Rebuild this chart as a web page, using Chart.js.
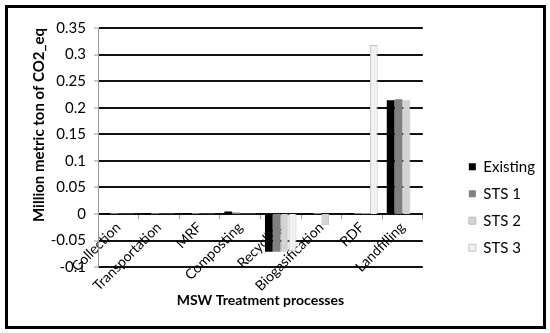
<!DOCTYPE html>
<html>
<head>
<meta charset="utf-8">
<script src="https://cdn.jsdelivr.net/npm/chart.js@4.4.1/dist/chart.umd.min.js"></script>
<style>
  body { margin: 0; background: #fff; }
  #wrap { position: relative; width: 550px; height: 333px; }
  #frame {
    position: absolute; left: 5px; top: 5px; width: 541px; height: 324px;
    box-sizing: border-box; border: 3px solid #000; pointer-events: none;
  }
</style>
</head>
<body>
<div id="wrap">
  <canvas id="chart"></canvas>
  <div id="frame"></div>
</div>
<script>
// categories and values
const categories = ['Collection', 'Transportation', 'MRF', 'Composting', 'Recycling', 'Biogasification', 'RDF', 'Landfilling'];
const seriesNames = ['Existing', 'STS 1', 'STS 2', 'STS 3'];
const existing = [0.002, 0.002, 0.002, 0.005, -0.071, 0.002, 0.002, 0.214];
const sts1 = [0.002, 0.002, 0.002, 0.003, -0.071, 0.002, 0.002, 0.216];
const sts2 = [0.001, 0.001, 0.001, 0.001, -0.071, -0.021, 0.002, 0.214];
const sts3 = [0.001, 0.001, 0.001, 0.001, -0.070, 0.000, 0.318, 0.000];
const yTickLabels = ['-0.1', '-0.05', '0', '0.05', '0.1', '0.15', '0.2', '0.25', '0.3', '0.35'];

const fontFamily = 'Lato, "Open Sans", sans-serif';

document.addEventListener('DOMContentLoaded', () => {
    const ctx = document.getElementById('chart');

    const data = {
        labels: categories,
        datasets: [
            { label: seriesNames[0], data: existing, backgroundColor: '#000000', borderColor: '#000000', borderWidth: 0 },
            { label: seriesNames[1], data: sts1, backgroundColor: '#808080', borderColor: '#808080', borderWidth: 0 },
            { label: seriesNames[2], data: sts2, backgroundColor: '#d3d3d3', borderColor: '#bdbdbd', borderWidth: 1 },
            { label: seriesNames[3], data: sts3, backgroundColor: '#f0f0f0', borderColor: '#c4c4c4', borderWidth: 1 }
        ]
    };

    new Chart(ctx, {
        type: 'bar',
        data: data,
        options: {
            responsive: true,
            maintainAspectRatio: false,
            animation: false,
            layout: { padding: { left: 26, top: 28, right: 7, bottom: 24 } },
            datasets: {
                bar: { categoryPercentage: 0.78, barPercentage: 0.98 }
            },
            plugins: {
                tooltip: { enabled: false },
                legend: {
                    position: 'right',
                    align: 'end',
                    fullSize: false,
                    labels: {
                        boxWidth: 7,
                        boxHeight: 7,
                        padding: 12,
                        color: '#000',
                        font: { family: fontFamily, size: 15 }
                    }
                },
                title: {
                    display: true,
                    text: 'MSW Treatment processes',
                    position: 'bottom',
                    fullSize: false,
                    color: '#000',
                    font: { family: fontFamily, size: 14, weight: 'bold' },
                    padding: { top: 25, bottom: 0 }
                }
            },
            scales: {
                x: {
                    type: 'category',
                    position: { y: 0 },
                    grid: { offset: true, drawOnChartArea: false, tickLength: 5, color: '#999', lineWidth: 1 },
                    border: { display: false },
                    ticks: {
                        autoSkip: false,
                        maxRotation: 45,
                        minRotation: 45,
                        padding: 0,
                        color: '#000',
                        font: { family: fontFamily, size: 14 }
                    },
                    afterFit: (scale) => { scale.height = 2; }
                },
                y: {
                    min: -0.1,
                    max: 0.35,
                    ticks: {
                        stepSize: 0.05,
                        padding: 8,
                        color: '#000',
                        font: { family: fontFamily, size: 15 },
                        callback: (value, index) => yTickLabels[index]
                    },
                    grid: { color: '#111', lineWidth: 2, tickLength: 4, tickColor: '#999', tickWidth: 1 },
                    border: { color: '#999', width: 1 },
                    title: {
                        display: true,
                        text: 'Million metric ton of CO2_eq',
                        align: 'end',
                        color: '#000',
                        font: { family: fontFamily, size: 15, weight: 'bold' },
                        padding: { top: 4, bottom: 0 }
                    },
                    afterFit: (scale) => { scale.width = 72; }
                },
                // empty axis, only keeps the gap between plot and legend
                gap: {
                    type: 'linear',
                    position: 'right',
                    grid: { display: false },
                    ticks: { display: false },
                    border: { display: false },
                    afterFit: (scale) => { scale.width = 34; }
                }
            }
        }
    });
});
</script>
</body>
</html>
